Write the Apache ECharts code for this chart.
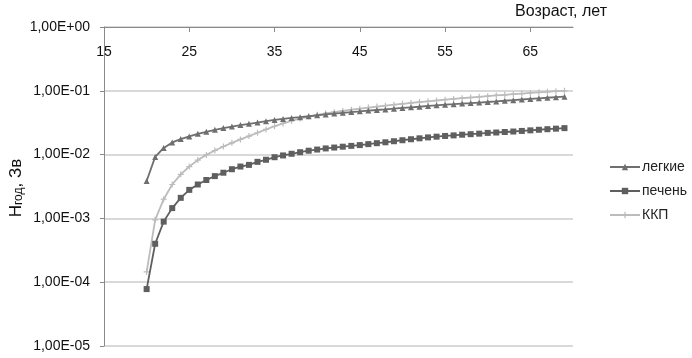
<!DOCTYPE html>
<html>
<head>
<meta charset="utf-8">
<script src="https://cdn.jsdelivr.net/npm/echarts@6/dist/echarts.min.js"></script>
<style>
	html, body { margin: 0; padding: 0; background: #fff; }
	#chart { width: 692px; height: 358px; }
</style>
</head>
<body>
<div id="chart"></div>
<script>
// возраст, лет (точки данных)
var ages = [20, 21, 22, 23, 24, 25, 26, 27, 28, 29, 30, 31, 32, 33, 34, 35, 36, 37, 38, 39,
	40, 41, 42, 43, 44, 45, 46, 47, 48, 49, 50, 51, 52, 53, 54, 55, 56, 57, 58, 59,
	60, 61, 62, 63, 64, 65, 66, 67, 68, 69];

// легкие
var lungs = [3.85e-3, 9.2e-3, 1.27e-2, 1.55e-2, 1.75e-2, 1.93e-2, 2.12e-2, 2.28e-2, 2.45e-2, 2.6e-2,
	2.75e-2, 2.9e-2, 3.04e-2, 3.18e-2, 3.34e-2, 3.5e-2, 3.63e-2, 3.75e-2, 3.86e-2, 3.99e-2,
	4.13e-2, 4.27e-2, 4.4e-2, 4.52e-2, 4.64e-2, 4.76e-2, 4.89e-2, 5.0e-2, 5.1e-2, 5.25e-2,
	5.38e-2, 5.5e-2, 5.62e-2, 5.8e-2, 5.92e-2, 6.05e-2, 6.17e-2, 6.3e-2, 6.42e-2, 6.55e-2,
	6.67e-2, 6.82e-2, 6.98e-2, 7.14e-2, 7.3e-2, 7.46e-2, 7.62e-2, 7.78e-2, 7.94e-2, 8.1e-2];

// печень
var liver = [7.8e-5, 4.0e-4, 8.9e-4, 1.45e-3, 2.1e-3, 2.8e-3, 3.4e-3, 4.0e-3, 4.6e-3, 5.2e-3,
	5.9e-3, 6.5e-3, 6.9e-3, 7.7e-3, 8.3e-3, 9.1e-3, 9.7e-3, 1.03e-2, 1.09e-2, 1.15e-2,
	1.2e-2, 1.25e-2, 1.29e-2, 1.33e-2, 1.37e-2, 1.41e-2, 1.46e-2, 1.51e-2, 1.56e-2, 1.62e-2,
	1.68e-2, 1.74e-2, 1.8e-2, 1.86e-2, 1.91e-2, 1.96e-2, 2.0e-2, 2.05e-2, 2.09e-2, 2.13e-2,
	2.19e-2, 2.22e-2, 2.26e-2, 2.3e-2, 2.35e-2, 2.4e-2, 2.45e-2, 2.5e-2, 2.55e-2, 2.6e-2];

// ККП
var kkp = [1.45e-4, 9.5e-4, 2.0e-3, 3.4e-3, 4.9e-3, 6.5e-3, 8.2e-3, 9.9e-3, 1.16e-2, 1.34e-2,
	1.53e-2, 1.73e-2, 1.95e-2, 2.2e-2, 2.48e-2, 2.78e-2, 3.08e-2, 3.38e-2, 3.68e-2, 3.95e-2,
	4.2e-2, 4.42e-2, 4.63e-2, 4.84e-2, 5.05e-2, 5.25e-2, 5.45e-2, 5.65e-2, 5.85e-2, 6.05e-2,
	6.25e-2, 6.45e-2, 6.65e-2, 6.85e-2, 7.05e-2, 7.25e-2, 7.45e-2, 7.65e-2, 7.85e-2, 8.05e-2,
	8.25e-2, 8.45e-2, 8.65e-2, 8.85e-2, 9.05e-2, 9.25e-2, 9.45e-2, 9.65e-2, 9.85e-2, 1.0e-1];

// ось X: от 15 до 70 лет
var axisStart = 15;
var axisEnd = 70;

var names = ['легкие', 'печень', 'ККП'];

var categories = [];
for (var a = axisStart; a <= axisEnd; a++) {
	categories.push(String(a));
}

function pairs(values) {
	return ages.map(function(age, i) {
		return [String(age), values[i]];
	});
}

function expLabel(v) {
	// 1e-5 -> 1,00E-05
	var s = Number(v).toExponential(2).replace('.', ',');
	return s.replace(/e([+-])(\d+)$/, function(m, sign, d) {
		return 'E' + sign + (d.length < 2 ? '0' + d : d);
	});
}

var chart = echarts.init(document.getElementById('chart'));

var option = {
	backgroundColor: '#fff',
	animation: false,
	textStyle: {
		fontFamily: 'Liberation Sans, Arial, sans-serif'
	},
	title: {
		text: 'Возраст, лет',
		left: 510,
		top: -1,
		textStyle: {
			fontSize: 16,
			fontWeight: 'normal',
			color: '#111'
		}
	},
	// подпись оси Y: Hгод, Зв
	graphic: [{
		type: 'text',
		x: 14,
		y: 188,
		rotation: Math.PI / 2,
		style: {
			text: '{a|H}{b|год}{a|, Зв}',
			align: 'center',
			verticalAlign: 'middle',
			fontFamily: 'Liberation Sans, Arial, sans-serif',
			rich: {
				a: { fontSize: 17, fill: '#111', lineHeight: 22, verticalAlign: 'bottom' },
				b: { fontSize: 12, fill: '#111', lineHeight: 13, verticalAlign: 'bottom' }
			}
		}
	}],
	legend: {
		orient: 'vertical',
		left: 604,
		top: 155,
		itemWidth: 30,
		itemHeight: 8,
		itemGap: 10,
		data: names,
		textStyle: {
			fontSize: 14,
			color: '#222',
			padding: [0, 0, 0, -3]
		}
	},
	grid: {
		left: 104,
		right: 119,
		top: 27,
		bottom: 12,
		containLabel: false,
		outerBoundsMode: 'none'
	},
	xAxis: {
		type: 'category',
		position: 'top',
		data: categories,
		boundaryGap: false,
		axisLine: {
			lineStyle: { color: '#8a8a8a', width: 1 }
		},
		axisTick: {
			inside: true,
			length: 5,
			interval: 9,
			lineStyle: { color: '#8a8a8a' }
		},
		axisLabel: {
			inside: true,
			interval: 9,
			margin: 18,
			fontSize: 14,
			color: '#111'
		},
		splitLine: { show: false }
	},
	yAxis: {
		type: 'log',
		logBase: 10,
		min: 1e-5,
		max: 1,
		axisLine: {
			show: true,
			lineStyle: { color: '#8a8a8a', width: 1 }
		},
		axisTick: {
			show: true,
			length: 4,
			lineStyle: { color: '#8a8a8a' }
		},
		axisLabel: {
			margin: 14,
			fontSize: 14,
			color: '#111',
			formatter: expLabel
		},
		splitLine: {
			show: true,
			lineStyle: { color: '#cccccc', width: 1.5 }
		}
	},
	series: [{
		name: names[0],
		type: 'line',
		data: pairs(lungs),
		symbol: 'triangle',
		symbolSize: 6,
		showAllSymbol: true,
		lineStyle: { color: '#6f6f6f', width: 1.8 },
		itemStyle: { color: '#6f6f6f' },
		z: 3
	}, {
		name: names[1],
		type: 'line',
		data: pairs(liver),
		symbol: 'rect',
		symbolSize: 6,
		showAllSymbol: true,
		lineStyle: { color: '#5f5f5f', width: 1.8 },
		itemStyle: { color: '#5f5f5f' },
		z: 3
	}, {
		name: names[2],
		type: 'line',
		data: pairs(kkp),
		symbol: 'path://M4,0L6,0L6,4L10,4L10,6L6,6L6,10L4,10L4,6L0,6L0,4L4,4Z',
		symbolSize: 6,
		showAllSymbol: true,
		lineStyle: { color: '#bcbcbc', width: 1.8 },
		itemStyle: { color: '#bcbcbc' },
		z: 2
	}]
};

chart.setOption(option);
</script>
</body>
</html>
